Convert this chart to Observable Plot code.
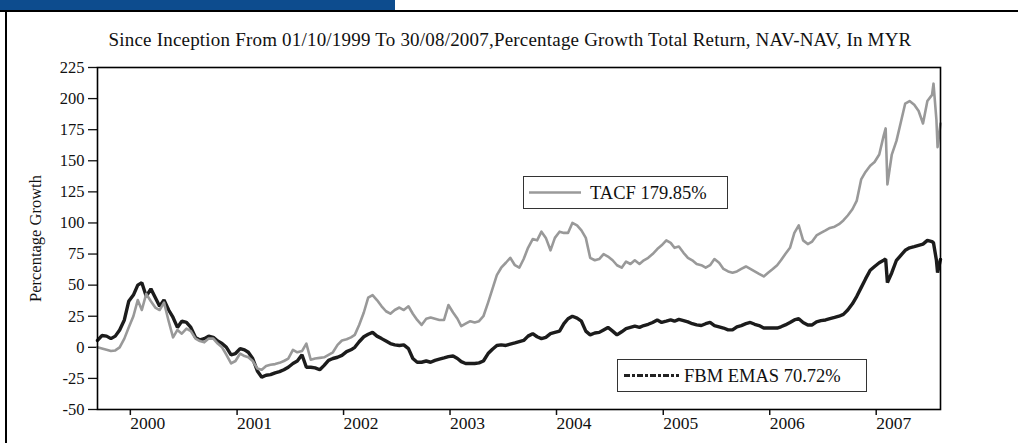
<!DOCTYPE html>
<html>
<head>
<meta charset="utf-8">
<script src="https://cdn.jsdelivr.net/npm/d3@7"></script>
<script src="https://cdn.jsdelivr.net/npm/@observablehq/plot@0.6"></script>
<style>
  html, body { margin: 0; padding: 0; background: #fff; }
  #wrap { position: relative; width: 1018px; height: 443px; overflow: hidden; font-family: "Liberation Serif", "Times New Roman", serif; color: #111; }
  .abs { position: absolute; }
  .legend { position: absolute; border: 1.3px solid #333; background: #fff; box-sizing: border-box; font-size: 18.5px; white-space: nowrap; }
  .legend svg { position: absolute; left: 0; top: 0; }
  .legend span { position: absolute; top: 50%; transform: translateY(-50%); }
</style>
</head>
<body>
<div id="wrap">
  <div class="abs" style="left:0;top:0;width:395px;height:10px;background:#0d4c8e;"></div>
  <div class="abs" style="left:0;top:10px;width:1018px;height:2px;background:#000;"></div>
  <div class="abs" style="left:5px;top:10px;width:2px;height:433px;background:#000;"></div>
  <div id="title" class="abs" style="left:0;width:1018px;top:29px;text-align:center;font-size:19px;letter-spacing:0.2px;padding-left:1px;">Since Inception From 01/10/1999 To 30/08/2007,Percentage Growth Total Return, NAV-NAV, In MYR</div>
  <div id="chart" class="abs" style="left:0;top:0;"></div>
  <div class="legend" style="left:523px;top:176px;width:205px;height:33px;">
    <svg width="80" height="31"><line x1="5" x2="57" y1="15.5" y2="15.5" stroke="#9a9a9a" stroke-width="2.5"/></svg>
    <span style="left:66px;">TACF 179.85%</span>
  </div>
  <div class="legend" style="left:617px;top:359px;width:250px;height:33px;">
    <svg width="80" height="31"><line x1="6" x2="61" y1="15.5" y2="15.5" stroke="#222" stroke-width="3" stroke-dasharray="6,2,3,2"/></svg>
    <span style="left:66px;">FBM EMAS 70.72%</span>
  </div>
</div>
<script>
// Dates (semi-monthly readings, plus a few spike dates)
const dates = [
"1999-10-01","1999-10-16","1999-11-01","1999-11-16","1999-12-01","1999-12-16",
"2000-01-01","2000-01-16","2000-02-01","2000-02-16","2000-03-01","2000-03-16","2000-04-01","2000-04-16","2000-05-01","2000-05-16","2000-06-01","2000-06-16",
"2000-07-01","2000-07-16","2000-08-01","2000-08-16","2000-09-01","2000-09-16","2000-10-01","2000-10-16","2000-11-01","2000-11-16","2000-12-01","2000-12-16",
"2001-01-01","2001-01-16","2001-02-01","2001-02-16","2001-03-01","2001-03-16","2001-04-01","2001-04-16","2001-05-01","2001-05-16","2001-06-01","2001-06-16",
"2001-07-01","2001-07-16","2001-08-01","2001-08-16","2001-09-01","2001-09-16","2001-10-01","2001-10-16","2001-11-01","2001-11-16","2001-12-01","2001-12-16",
"2002-01-01","2002-01-16","2002-02-01","2002-02-16","2002-03-01","2002-03-16","2002-04-01","2002-04-16","2002-05-01","2002-05-16","2002-06-01","2002-06-16",
"2002-07-01","2002-07-16","2002-08-01","2002-08-16","2002-09-01","2002-09-16","2002-10-01","2002-10-16","2002-11-01","2002-11-16","2002-12-01","2002-12-16",
"2003-01-01","2003-01-16","2003-02-01","2003-02-16","2003-03-01","2003-03-16","2003-04-01","2003-04-16","2003-05-01","2003-05-16","2003-06-01","2003-06-16",
"2003-07-01","2003-07-16","2003-08-01","2003-08-16","2003-09-01","2003-09-16","2003-10-01","2003-10-16","2003-11-01","2003-11-16","2003-12-01","2003-12-16",
"2004-01-01","2004-01-16","2004-02-01","2004-02-16","2004-03-01","2004-03-16","2004-04-01","2004-04-16","2004-05-01","2004-05-16","2004-06-01","2004-06-16",
"2004-07-01","2004-07-16","2004-08-01","2004-08-16","2004-09-01","2004-09-16","2004-10-01","2004-10-16","2004-11-01","2004-11-16","2004-12-01","2004-12-16",
"2005-01-01","2005-01-16","2005-02-01","2005-02-16","2005-03-01","2005-03-16","2005-04-01","2005-04-16","2005-05-01","2005-05-16","2005-06-01","2005-06-16",
"2005-07-01","2005-07-16","2005-08-01","2005-08-16","2005-09-01","2005-09-16","2005-10-01","2005-10-16","2005-11-01","2005-11-16","2005-12-01","2005-12-16",
"2006-01-01","2006-01-16","2006-02-01","2006-02-16","2006-03-01","2006-03-16","2006-04-01","2006-04-16","2006-05-01","2006-05-16","2006-06-01","2006-06-16",
"2006-07-01","2006-07-16","2006-08-01","2006-08-16","2006-09-01","2006-09-16","2006-10-01","2006-10-16","2006-11-01","2006-11-16","2006-12-01","2006-12-16",
"2007-01-01","2007-01-16","2007-02-01","2007-02-16","2007-02-23","2007-03-01","2007-03-16","2007-04-01","2007-04-16","2007-05-01","2007-05-16","2007-06-01","2007-06-16",
"2007-07-01","2007-07-16","2007-08-01","2007-08-06","2007-08-16","2007-08-20","2007-08-30"
];

// TACF percentage growth
const tacf = [
0,-1,-2,-3,-2.5,0,
7,16,25,38,30,43,37,32,30,36,21,8,
14,11,15,13,7,5,4,7,7,3,0,-6,
-13,-11,-5,-7,-8,-11,-17,-18,-15,-14,-13.5,-12.5,
-11,-9,-2,-4,-3,3,-10,-9,-8.5,-8,-6,-4,
2,5.5,6.5,8,10,18,28,40,42,38,33,29,
27,30,32,30,33,27,22,18,23,24,23,22,
22,34,28,23,17,19,21,20,21,25,36,47,
58,64,68,72,66,64,71,80,87,86,93,88,
78,88,93,92,92,100,98,94,88,72,70,71,
75,73,70,66,64,69,67,70,67,70,72,75,
79,82,86,84,80,81,76,72,70,67,66,64,
66,71,68,63,61,60,61,63,65,63,61,59,
57,60,63,66,70,75,80,92,98,86,83,85,
90,92,94,96,97,99,102,106,111,118,135,141,
146,149,155,170,176,131,155,166,181,196,198,195,190,
180,198,203,212,183,161,179.85
];

// FBM EMAS percentage growth
const emas = [
5.5,9.5,9,7,9,14,
22,37,42,50,52,41,47,40,33,38,30,24,
16,21,20,16,8,6,7,9,8,5,3,0,
-6,-5,-1,-2,-4,-9,-19,-24,-22.5,-22,-20.5,-19.5,
-18,-16,-13,-11,-6,-16,-16,-16.5,-18,-14.5,-10.5,-9,
-8,-6.5,-3.5,-2,0,4.5,8.5,10.5,12,9,7,5,
3,2,1.5,2,-1,-9,-12,-12,-11,-12,-10.5,-9.5,
-8.5,-7.5,-7,-9,-11.5,-13,-13,-13,-12.5,-11,-5,-1.5,
1.5,2,1.5,2.5,3.5,4.5,5.5,9,11,8.5,7,8,
11,12,13,19,23,25,23.5,21,13,10,11.5,12,
14,16,13,10,12.5,15,16,17,16,17.5,18.5,20,
22,20,21,22,21,22.5,21.5,20.5,19,18,17.5,19,
20,17.5,16.5,15.5,14,14,16.5,17.5,19,20,18.5,17.5,
15.5,15.5,15.5,15.5,16.5,18,20,22,23,20,18,18,
20.5,21.5,22,23,24,25,26.5,30,35,41,48,55,
62,65,68,70,71,52,60,70,74,78,80,81,82,
83,86,85,84,70,60,70.72
];

const yTicks = [-50,-25,0,25,50,75,100,125,150,175,200,225];
const yearTicks = ["2000","2001","2002","2003","2004","2005","2006","2007"];

const parse = d3.utcParse("%Y-%m-%d");
const rowsT = dates.map((d, i) => ({date: parse(d), value: tacf[i]}));
const rowsE = dates.map((d, i) => ({date: parse(d), value: emas[i]}));

const chart = Plot.plot({
  width: 1018,
  height: 443,
  marginTop: 67,
  marginBottom: 34,
  marginLeft: 97,
  marginRight: 78,
  style: {fontFamily: "Liberation Serif, serif", fontSize: "16px", color: "#111", background: "transparent", overflow: "visible"},
  x: {type: "utc", domain: [parse("1999-10-01"), parse("2007-08-30")]},
  y: {domain: [-50, 225]},
  marks: [
    Plot.axisY({ticks: yTicks, tickSize: 9, tickPadding: 4, tickFormat: d => String(d), label: "Percentage Growth", labelAnchor: "center", labelArrow: "none", labelOffset: 68, fontSize: 16.5, strokeWidth: 1.3}),
    Plot.axisX({ticks: yearTicks.map(y => parse(y + "-01-01")), tickSize: 6, tickPadding: 1, tickFormat: d3.utcFormat("%Y"), textAnchor: "start", dx: 6, label: null, fontSize: 17.5, strokeWidth: 1.5}),
    Plot.line(rowsE, {x: "date", y: "value", stroke: "#1c1c1c", strokeWidth: 3.4, strokeLinejoin: "miter"}),
    Plot.line(rowsT, {x: "date", y: "value", stroke: "#999999", strokeWidth: 2.6}),
    Plot.frame({stroke: "#000", strokeWidth: 1.6})
  ]
});
document.getElementById("chart").appendChild(chart);
</script>
</body>
</html>
